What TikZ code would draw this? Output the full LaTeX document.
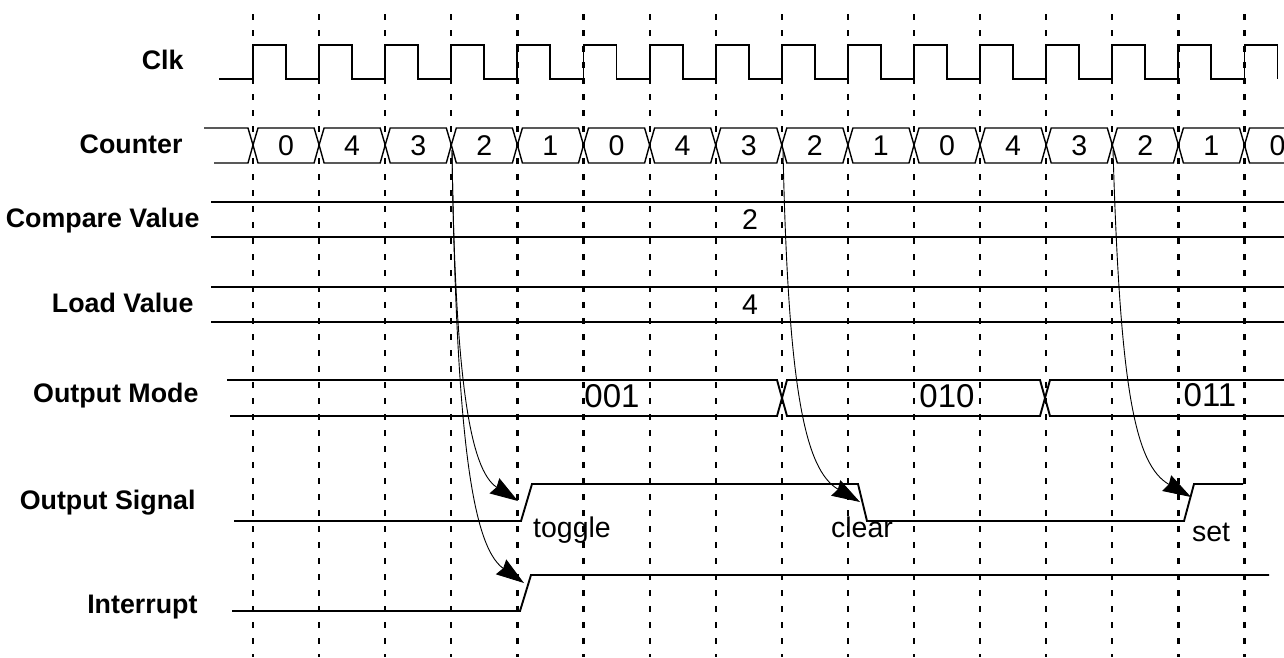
\documentclass[tikz,border=0pt]{standalone}
\usepackage{fontspec}
\setmainfont{Liberation Sans}
\usetikzlibrary{arrows.meta}

\begin{document}
\begin{tikzpicture}[x=1pt,y=-1pt,
    grid/.style={line width=2.2pt, dash pattern=on 6pt off 10pt},
    sig/.style={line width=1.9pt},
    bus/.style={line width=1.4pt},
    cause/.style={line width=0.9pt, -{Stealth[length=28pt,width=18pt,inset=2.5pt]}},
    lbl/.style={anchor=base east, font=\fontsize{26.8}{30}\selectfont\bfseries},
    val/.style={anchor=base, font=\fontsize{28.5}{30}\selectfont},
    mode/.style={anchor=base, font=\fontsize{33}{36}\selectfont}]
    \clip (0,0) rectangle (1284,657);

    % Clock edges
    \foreach \i in {0,...,15}
        \draw[grid] ({253+66.1*\i},14) -- ({253+66.1*\i},657);

    % Signal names
    \node[lbl] (clk) at (187,69) {Clk};
    \node[lbl] (counter) at (186,153) {Counter};
    \node[lbl] (compare) at (203,227) {Compare Value};
    \node[lbl] (load) at (197,312) {Load Value};
    \node[lbl] (outmode) at (202,402) {Output Mode};
    \node[lbl] (outsig) at (199,509) {Output Signal};
    \node[lbl] (irq) at (201,613) {Interrupt};

    % Clock
    \draw[sig] (219,79) \foreach \i in {0,...,15} {
        -- ({253+66.1*\i},79) -- ({253+66.1*\i},45)
        -- ({286+66.1*\i},45) -- ({286+66.1*\i},79) };

    % Counter bus
    \draw[bus] (204,128) -- (248,128) -- (253,145) -- (248,163) -- (214,163);
    \foreach \v [count=\i from 0] in {0,4,3,2,1,0,4,3,2,1,0,4,3,2,1,0} {
        \draw[bus] ({253+66.1*\i},145) -- ++(5,-17) -- ({314.1+66.1*\i},128)
            -- ++(5,17) -- ++(-5,18) -- ({258+66.1*\i},163) -- cycle;
        \node[val] (cnt\i) at ({286+66.1*\i},155) {\v};
    }

    % Compare and load values
    \draw[sig] (211,202) -- (1284,202) (211,237) -- (1284,237);
    \node[val] (cmpval) at (750,229) {2};
    \draw[sig] (211,287) -- (1284,287) (211,322) -- (1284,322);
    \node[val] (ldval) at (750,314) {4};

    % Output mode
    \draw[sig] (227,380) -- (777,380) -- (787,416) -- (1040,416) -- (1050,380) -- (1290,380);
    \draw[sig] (230,416) -- (777,416) -- (787,380) -- (1040,380) -- (1050,416) -- (1290,416);
    \node[mode] (mode1) at (612,407) {001};
    \node[mode] (mode2) at (947,407) {010};
    \node[mode] (mode3) at (1210,406) {011};

    % Output signal
    \draw[sig] (234,521) -- (521,521) -- (532,484) -- (858,484) -- (867,521)
        -- (1184,521) -- (1194,484) -- (1243,484);
    \node[val] (toggle) at (572,537) {toggle};
    \node[val] (clear) at (862,537) {clear};
    \node[val] (set) at (1211,541) {set};

    % Interrupt
    \draw[sig] (232,611) -- (520,611) -- (531,575) -- (1269,575);

    % Compare matches
    \coordinate (match1) at (452,150);
    \coordinate (match2) at (783,150);
    \coordinate (match3) at (1113,150);
    \coordinate (togedge) at (518,501);
    \coordinate (irqedge) at (524,583);
    \coordinate (clredge) at (860,502);
    \coordinate (setedge) at (1191,497);
    \draw[cause] (match1) .. controls (455,380) and (470,470) .. (togedge);
    \draw[cause] (match1) .. controls (456,420) and (470,545) .. (irqedge);
    \draw[cause] (match2) .. controls (788,390) and (805,470) .. (clredge);
    \draw[cause] (match3) .. controls (1120,390) and (1135,465) .. (setedge);
\end{tikzpicture}
\end{document}
